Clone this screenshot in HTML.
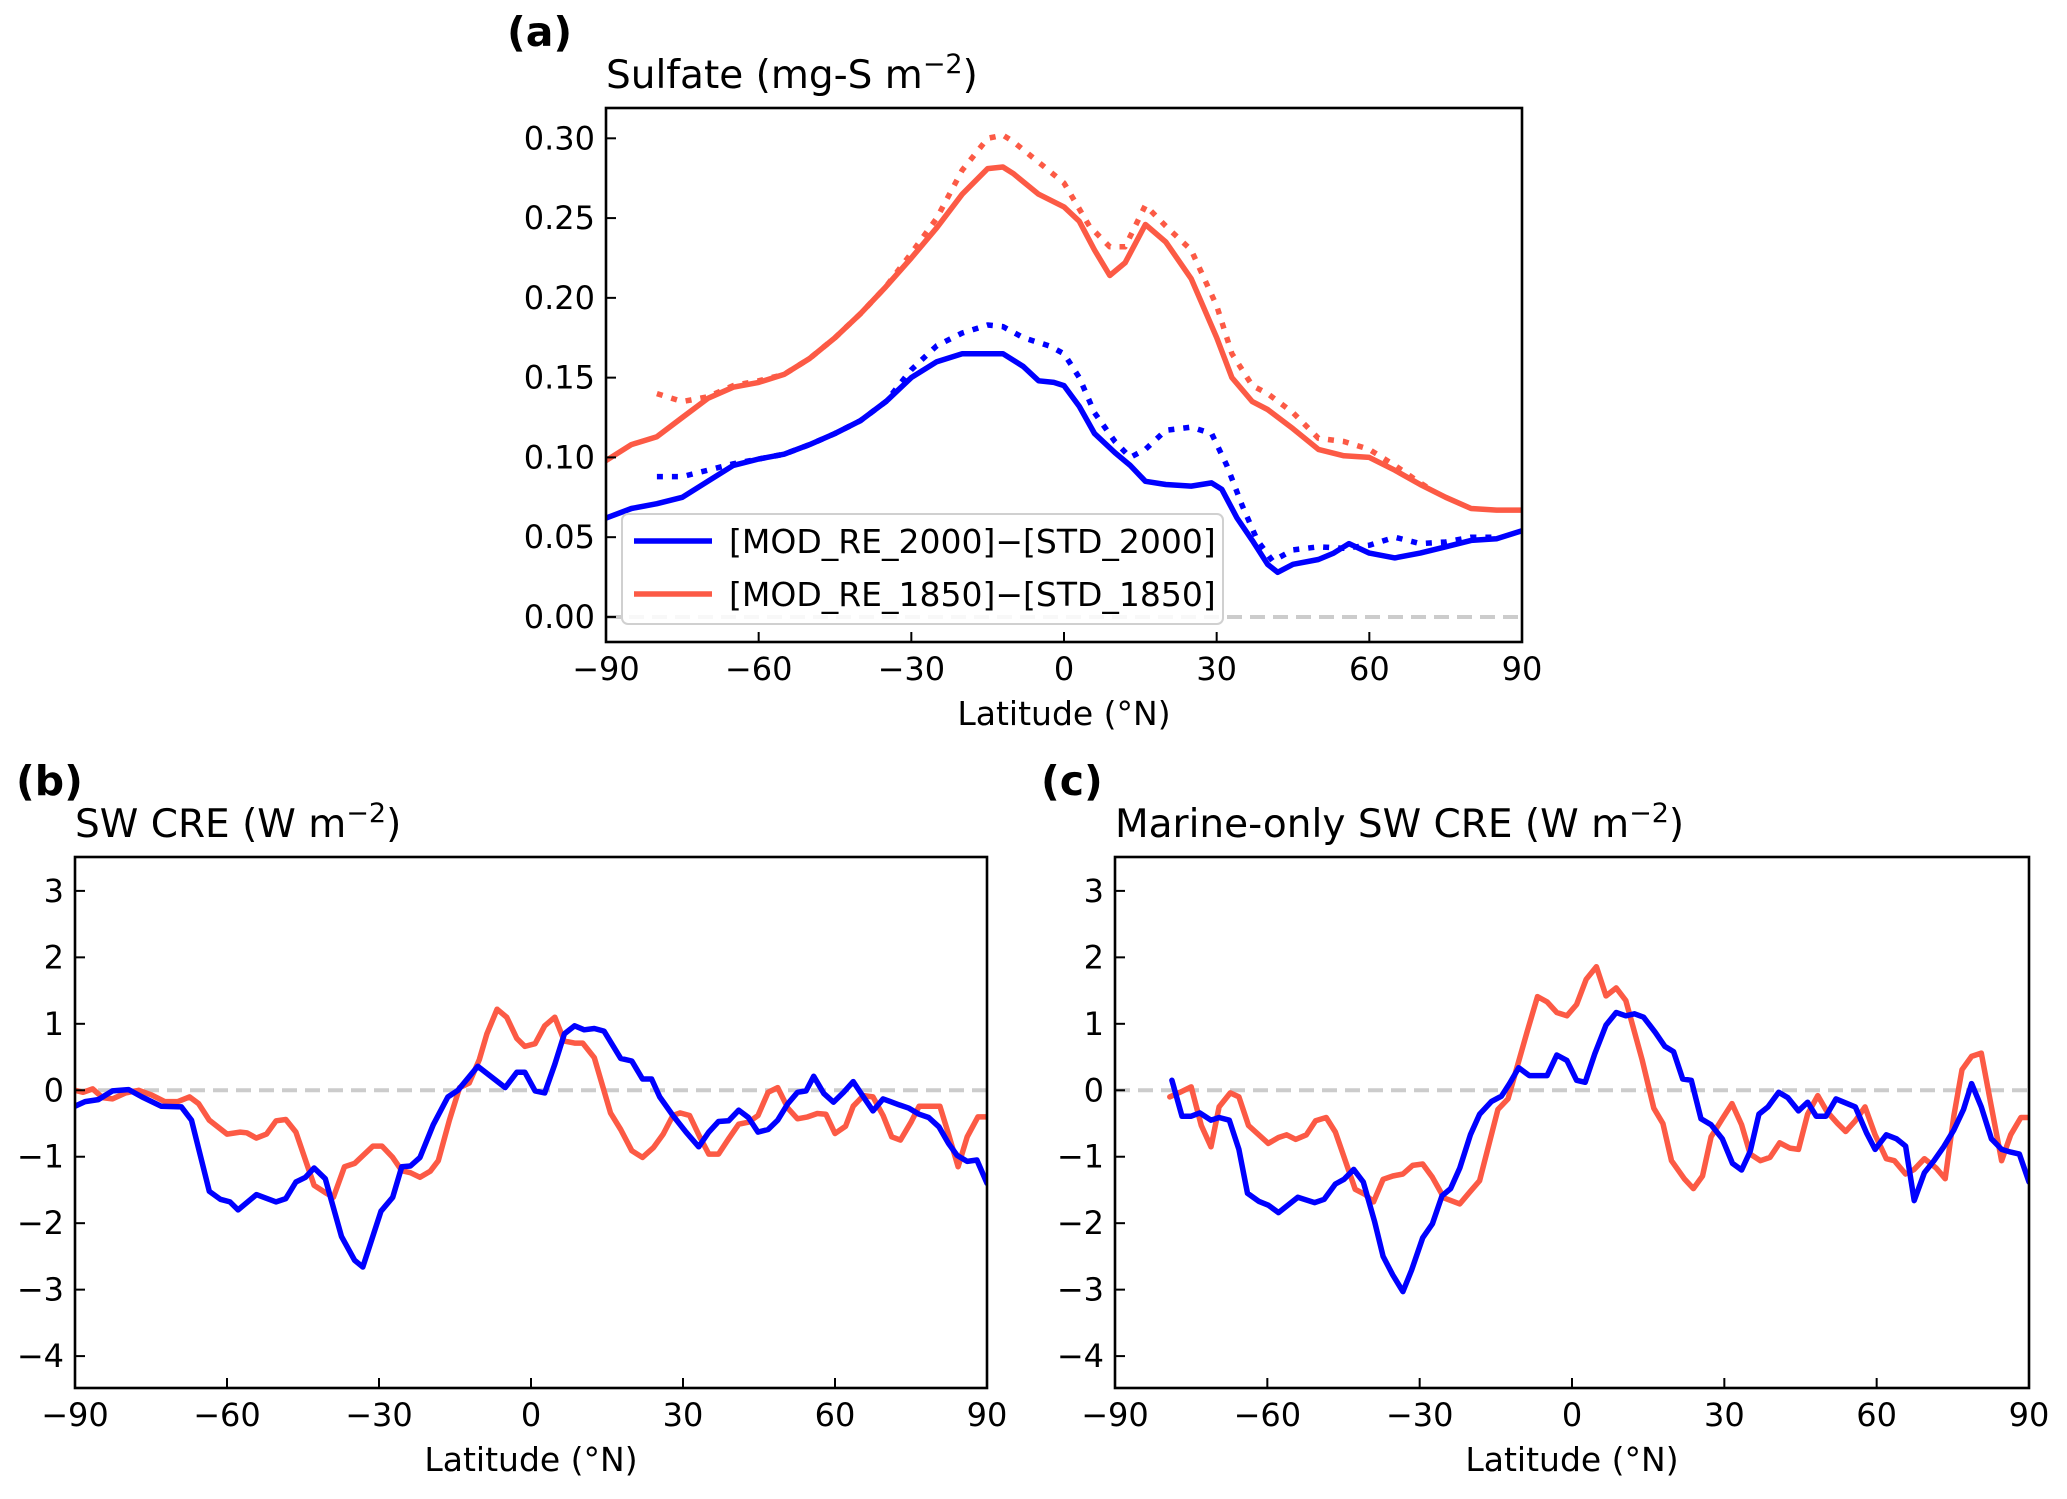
<!DOCTYPE html>
<html><head><meta charset="utf-8"><style>
body{margin:0;background:#fff;}
svg text{font-family:"DejaVu Sans","Liberation Sans",sans-serif;fill:#000;}
</style></head><body>
<svg id="fig" width="2067" height="1494" viewBox="0 0 2067 1494" xmlns="http://www.w3.org/2000/svg"></svg>
<script>
// ---- Panel (a) data ----
const aRedSolidLat=[-90,-85,-80,-75,-70,-65,-60,-55,-50,-45,-40,-35,-30,-25,-20,-15,-12,-10,-5,0,3,6,9,12,16,20,25,30,33,37,40,45,50,55,60,65,70,75,80,85,90];
const aRedSolid=[0.098,0.108,0.113,0.125,0.137,0.144,0.147,0.152,0.162,0.175,0.190,0.207,0.225,0.244,0.265,0.281,0.282,0.278,0.265,0.257,0.248,0.230,0.214,0.222,0.246,0.235,0.212,0.175,0.150,0.135,0.130,0.118,0.105,0.101,0.100,0.092,0.083,0.075,0.068,0.067,0.067];
const aRedDotLat=[-80,-75,-70,-65,-60,-55,-50,-45,-40,-35,-30,-25,-20,-15,-12,-10,-5,0,5,9,12,16,20,25,30,33,37,40,45,50,55,60,65,70,72];
const aRedDot=[0.140,0.135,0.138,0.145,0.148,0.152,0.162,0.175,0.190,0.207,0.228,0.250,0.280,0.300,0.302,0.298,0.285,0.272,0.245,0.232,0.232,0.258,0.245,0.230,0.195,0.165,0.145,0.140,0.128,0.112,0.110,0.105,0.095,0.084,0.080];
const aBlueSolidLat=[-90,-85,-80,-75,-70,-65,-60,-55,-50,-45,-40,-35,-30,-25,-20,-15,-12,-8,-5,-2,0,3,6,10,13,16,20,25,29,31,34,37,40,42,45,50,53,56,60,65,70,75,80,85,90];
const aBlueSolid=[0.062,0.068,0.071,0.075,0.085,0.095,0.099,0.102,0.108,0.115,0.123,0.135,0.150,0.160,0.165,0.165,0.165,0.157,0.148,0.147,0.145,0.132,0.115,0.103,0.095,0.085,0.083,0.082,0.084,0.080,0.062,0.048,0.033,0.028,0.033,0.036,0.040,0.046,0.040,0.037,0.040,0.044,0.048,0.049,0.054];
const aBlueDotLat=[-80,-75,-70,-65,-60,-55,-50,-45,-40,-35,-30,-25,-20,-15,-12,-8,-3,0,3,6,10,13,16,20,25,29,32,35,38,41,45,50,55,60,65,70,75,80,85];
const aBlueDot=[0.088,0.088,0.092,0.096,0.099,0.102,0.108,0.115,0.123,0.135,0.155,0.170,0.178,0.183,0.182,0.175,0.170,0.165,0.150,0.128,0.110,0.100,0.105,0.117,0.119,0.115,0.095,0.070,0.048,0.035,0.042,0.044,0.043,0.045,0.050,0.046,0.047,0.050,0.050];
const aYTicks=[0,0.05,0.10,0.15,0.20,0.25,0.30];
const aYTickLabels=["0.00","0.05","0.10","0.15","0.20","0.25","0.30"];
const xTicks=[-90,-60,-30,0,30,60,90];
const xTickLabels=["\u221290","\u221260","\u221230","0","30","60","90"];
const cYTicks=[-4,-3,-2,-1,0,1,2,3];
const cYTickLabels=["\u22124","\u22123","\u22122","\u22121","0","1","2","3"];
// ---- Panel (b) data ----
const bBlueLat=[-90,-88,-85.4,-82.6,-79.4,-76.8,-73,-69,-67,-63.5,-61.3,-59.4,-57.8,-54.2,-50.3,-48.4,-46.4,-44.5,-42.8,-40.6,-37.4,-34.8,-33.2,-29.6,-27.3,-25.5,-23.8,-21.9,-19.3,-16.4,-14.4,-10.5,-5.1,-2.8,-1.2,0.8,2.7,4.7,6.6,8.6,10.5,12.5,14.4,17.7,19.9,22,23.8,25.4,28,30.6,33.1,35.1,37,39,41,42.9,44.8,46.8,48.7,50.7,52.6,54.3,55.8,57.8,59.7,61.7,63.6,65.6,67.5,69.5,72.7,74.6,76.6,78.5,80.5,82.4,84.1,86.1,88,90];
const bBlue=[-0.24,-0.17,-0.14,-0.01,0.01,-0.1,-0.24,-0.25,-0.45,-1.52,-1.64,-1.68,-1.8,-1.57,-1.68,-1.63,-1.38,-1.31,-1.17,-1.33,-2.2,-2.56,-2.66,-1.82,-1.61,-1.15,-1.14,-1.01,-0.52,-0.1,0.0,0.36,0.04,0.27,0.27,-0.01,-0.04,0.39,0.85,0.97,0.91,0.93,0.89,0.48,0.44,0.17,0.17,-0.1,-0.38,-0.63,-0.85,-0.63,-0.47,-0.46,-0.3,-0.41,-0.63,-0.59,-0.45,-0.2,-0.03,-0.01,0.21,-0.05,-0.18,-0.03,0.13,-0.1,-0.31,-0.13,-0.22,-0.27,-0.36,-0.41,-0.55,-0.8,-0.98,-1.07,-1.05,-1.4];
const bRedLat=[-90,-88.4,-86.5,-84.6,-82.6,-80,-77.4,-74.9,-72.3,-69.7,-67.4,-65.6,-63.5,-60,-57.4,-56.1,-54.2,-52.2,-50.3,-48.4,-46.4,-42.8,-40.6,-39,-36.8,-34.8,-31.2,-29.4,-27.3,-25.5,-23.8,-21.9,-19.9,-18.3,-16.1,-14.1,-12.2,-10.2,-8.7,-6.7,-4.8,-2.8,-1.2,0.8,2.7,4.7,6.6,8.6,10.2,12.5,15.7,17.7,19.9,22,24.2,26.1,28,29.4,31.3,33.3,35.1,37,39,41,42.9,44.8,46.8,48.7,50.7,52.6,54.6,56.5,58.2,60,62.1,63.6,65.6,67.5,69.5,71.2,72.9,75,76.6,78.5,80.7,82.4,84.3,86.1,88.2,90];
const bRed=[0.0,-0.03,0.02,-0.11,-0.13,-0.04,0,-0.07,-0.17,-0.17,-0.1,-0.2,-0.45,-0.66,-0.63,-0.64,-0.72,-0.66,-0.46,-0.44,-0.63,-1.43,-1.54,-1.61,-1.15,-1.1,-0.84,-0.84,-1.01,-1.21,-1.24,-1.31,-1.22,-1.06,-0.45,0.04,0.11,0.46,0.85,1.22,1.1,0.78,0.66,0.7,0.97,1.1,0.74,0.71,0.71,0.49,-0.34,-0.59,-0.91,-1.01,-0.86,-0.66,-0.38,-0.34,-0.38,-0.7,-0.96,-0.96,-0.73,-0.51,-0.48,-0.38,-0.03,0.04,-0.27,-0.43,-0.4,-0.35,-0.36,-0.65,-0.54,-0.24,-0.08,-0.1,-0.38,-0.7,-0.75,-0.48,-0.24,-0.24,-0.24,-0.66,-1.15,-0.7,-0.4,-0.4];
// ---- Panel (c) data ----
const cBlueLat=[-78.8,-76.8,-75,-73.3,-71.1,-69.5,-67.5,-65.6,-63.9,-61.7,-59.8,-57.8,-54,-50.7,-48.8,-46.6,-44.9,-43,-41.1,-38.9,-37.2,-35.3,-33.3,-31.6,-29.4,-27.5,-25.6,-23.9,-22.1,-20,-18.2,-15.9,-13.9,-12.3,-10.5,-8.4,-4.9,-3,-1,0.9,2.6,4.5,6.7,8.7,10.6,12.3,14.1,16.4,18.3,20,21.8,23.5,25.4,27.4,29.6,31.6,33.4,35.1,36.8,38.6,40.7,42.5,44.6,46.4,48.1,50,52,55.8,58,59.7,61.9,63.9,65.7,67.4,69.4,71.3,73.2,75.2,77.1,78.7,80.6,82.6,84.6,86.4,88.1,90];
const cBlue=[0.15,-0.39,-0.39,-0.34,-0.45,-0.41,-0.45,-0.89,-1.55,-1.67,-1.73,-1.84,-1.61,-1.69,-1.64,-1.41,-1.34,-1.19,-1.38,-1.97,-2.5,-2.78,-3.03,-2.71,-2.22,-2.01,-1.59,-1.48,-1.17,-0.67,-0.36,-0.17,-0.09,0.1,0.34,0.22,0.22,0.53,0.45,0.15,0.12,0.55,0.98,1.17,1.12,1.15,1.1,0.87,0.66,0.58,0.17,0.15,-0.43,-0.52,-0.73,-1.1,-1.2,-0.92,-0.36,-0.25,-0.03,-0.11,-0.31,-0.18,-0.39,-0.39,-0.13,-0.25,-0.64,-0.89,-0.67,-0.73,-0.84,-1.66,-1.24,-1.06,-0.85,-0.6,-0.29,0.1,-0.25,-0.73,-0.89,-0.93,-0.96,-1.38];
const cRedLat=[-79.2,-77.2,-75,-73,-71.1,-69.5,-67.3,-65.6,-63.7,-59.8,-57.8,-56.2,-54.4,-52.3,-50.5,-48.4,-46.6,-42.7,-40.7,-39.1,-37.2,-35.3,-33.3,-31.4,-29.4,-27.5,-25.2,-22.1,-20,-18.2,-14.6,-12.6,-8.8,-6.8,-4.9,-3,-1,0.9,2.8,4.8,6.7,8.7,10.6,13.8,16.1,17.9,19.6,22.2,23.9,25.7,27.4,29.6,31.5,33.4,35.1,37.1,39,40.9,42.9,44.6,46.4,48.4,50.2,52.3,53.9,55.8,57.7,59.7,61.9,63.5,65.7,67.4,69.4,71.7,73.5,75.2,76.8,78.7,80.6,82.6,84.6,86.4,88.4,90];
const cRed=[-0.1,-0.03,0.05,-0.53,-0.85,-0.25,-0.04,-0.1,-0.53,-0.8,-0.71,-0.67,-0.74,-0.67,-0.46,-0.41,-0.63,-1.49,-1.57,-1.68,-1.34,-1.29,-1.26,-1.13,-1.11,-1.31,-1.62,-1.71,-1.52,-1.36,-0.29,-0.13,0.89,1.41,1.33,1.17,1.12,1.29,1.67,1.86,1.42,1.54,1.35,0.46,-0.27,-0.5,-1.06,-1.34,-1.48,-1.29,-0.7,-0.43,-0.2,-0.52,-0.96,-1.06,-1.01,-0.79,-0.87,-0.89,-0.36,-0.08,-0.32,-0.5,-0.62,-0.46,-0.25,-0.67,-1.03,-1.06,-1.26,-1.19,-1.03,-1.17,-1.33,-0.39,0.31,0.51,0.56,-0.25,-1.06,-0.67,-0.41,-0.41];

const NS='http://www.w3.org/2000/svg';
const svg=document.getElementById('fig');
function mk(tag,attrs,parent){const e=document.createElementNS(NS,tag);for(const k in attrs)e.setAttribute(k,attrs[k]);(parent||svg).appendChild(e);return e;}
const BLUE='#0000ff', RED='#fc5a45';

function panel(key,L,R,T,B,ymin,ymax,yt,ytl,letter,letterX,title,series,legend){
  const g=mk('g',{});
  
  
  const sx=v=>L+(v+90)/180*(R-L);
  const sy=v=>B-(v-ymin)/(ymax-ymin)*(B-T);
  const clip=mk('clipPath',{id:'clip'+key},g);
  mk('rect',{x:L,y:T,width:R-L,height:B-T},clip);
  const z=mk('line',{x1:L,x2:R,y1:sy(0),y2:sy(0),stroke:'#cccccc','stroke-width':4,'stroke-dasharray':'15,8'},g);
  
  
  const sg=mk('g',{'clip-path':'url(#clip'+key+')'},g);
  series.forEach(s=>{
    const d=s.lat.map((la,i)=>(i?'L':'M')+sx(la).toFixed(1)+','+sy(s.val[i]).toFixed(1)).join(' ');
    const p=mk('path',{d:d,fill:'none',stroke:s.color,'stroke-width':5.5,'stroke-linejoin':'round','stroke-linecap':s.dot?'butt':'round'},sg);
    if(s.dot)p.setAttribute('stroke-dasharray','6,9');
    
    
  });
  const frame=mk('rect',{x:L,y:T,width:R-L,height:B-T,fill:'none',stroke:'#000','stroke-width':2.6},g);
  
  
  xTicks.forEach((t,i)=>{
    mk('line',{x1:sx(t),x2:sx(t),y1:B,y2:B-10,stroke:'#000','stroke-width':2},g);
    const tx=mk('text',{x:sx(t),y:B+38,'text-anchor':'middle','font-size':32},g);
    tx.textContent=xTickLabels[i];
    
    
  });
  yt.forEach((t,i)=>{
    mk('line',{x1:L,x2:L+10,y1:sy(t),y2:sy(t),stroke:'#000','stroke-width':2},g);
    const tx=mk('text',{x:L-11,y:sy(t)+11,'text-anchor':'end','font-size':32},g);
    tx.textContent=ytl[i];
    
    
  });
  const xl=mk('text',{x:(L+R)/2,y:B+83,'text-anchor':'middle','font-size':33},g);
  xl.textContent='Latitude (°N)';
  
  
  const tt=mk('text',{x:L,y:T-20,'font-size':39},g);
  tt.innerHTML=title+' m<tspan dy="-15" font-size="27">\u22122</tspan><tspan dy="15">)</tspan>';
  
  
  const lt=mk('text',{x:letterX,y:T-62,'font-size':41,'font-weight':'bold'},g);
  lt.textContent=letter;
  
  
  if(legend){
    const lg=mk('g',{},g);
    
    
    mk('rect',{x:622,y:514,width:601,height:110,rx:6,fill:'#fff','fill-opacity':0.85,stroke:'#d0d0d0','stroke-width':2},lg);
    [[BLUE,'[MOD_RE_2000]\u2212[STD_2000]',541],[RED,'[MOD_RE_1850]\u2212[STD_1850]',594]].forEach(e=>{
      const le=mk('g',{},lg);
      
      
      mk('line',{x1:634,x2:712,y1:e[2],y2:e[2],stroke:e[0],'stroke-width':5.5},le);
      const t=mk('text',{x:729,y:e[2]+12,'font-size':33},le);
      t.textContent=e[1];
    });
  }
}
panel('a',606,1522,108,642,-0.0157,0.319,aYTicks,aYTickLabels,'(a)',507,'Sulfate (mg-S',[
  {lat:aRedDotLat,val:aRedDot,color:RED,dot:true,name:'red-dotted-line'},
  {lat:aBlueDotLat,val:aBlueDot,color:BLUE,dot:true,name:'blue-dotted-line'},
  {lat:aRedSolidLat,val:aRedSolid,color:RED,name:'red-line-1850'},
  {lat:aBlueSolidLat,val:aBlueSolid,color:BLUE,name:'blue-line-2000'}],true);
panel('b',75,987,857,1388,-4.48,3.51,cYTicks,cYTickLabels,'(b)',16,'SW CRE (W',[
  {lat:bRedLat,val:bRed,color:RED,name:'red-line-1850'},
  {lat:bBlueLat,val:bBlue,color:BLUE,name:'blue-line-2000'}],false);
panel('c',1115,2029,857,1388,-4.48,3.51,cYTicks,cYTickLabels,'(c)',1041,'Marine-only SW CRE (W',[
  {lat:cRedLat,val:cRed,color:RED,name:'red-line-1850'},
  {lat:cBlueLat,val:cBlue,color:BLUE,name:'blue-line-2000'}],false);
</script>
</body></html>
